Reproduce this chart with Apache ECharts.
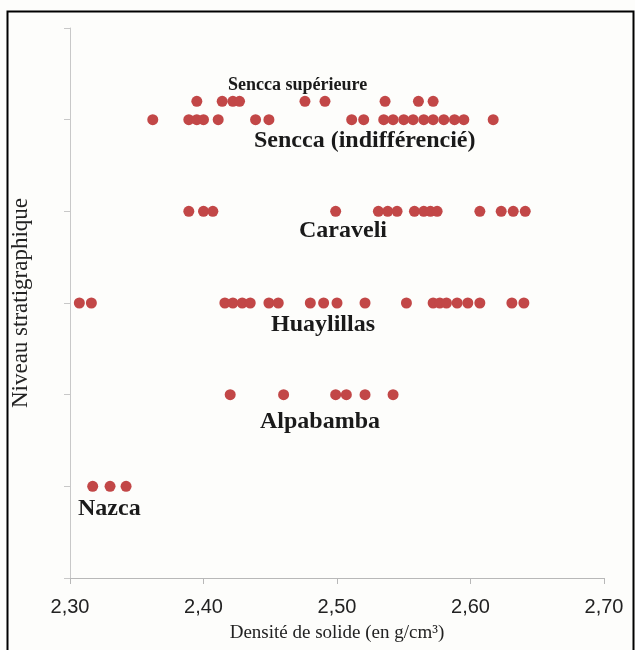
<!DOCTYPE html>
<html>
<head>
<meta charset="utf-8">
<script src="https://cdn.jsdelivr.net/npm/echarts@6/dist/echarts.min.js"></script>
<style>
html,body{margin:0;padding:0;background:#fff;}
#chart{width:635px;height:650px;}
</style>
</head>
<body>
<div id="chart"></div>
<script>
// niveaux stratigraphiques (position sur l'axe vertical)
var levels = { nazca: 1, alpabamba: 2, huaylillas: 3, caraveli: 4, senccaInd: 5, senccaSup: 5.2 };

var nazca = [2.317, 2.330, 2.342];
var alpabamba = [2.420, 2.460, 2.499, 2.507, 2.521, 2.542];
var huaylillas = [2.307, 2.316, 2.416, 2.422, 2.429, 2.435, 2.449, 2.456, 2.480, 2.490, 2.500,
    2.521, 2.552, 2.572, 2.577, 2.582, 2.590, 2.598, 2.607, 2.631, 2.640];
var caraveli = [2.389, 2.400, 2.407, 2.499, 2.531, 2.538, 2.545, 2.558, 2.565, 2.570, 2.575,
    2.607, 2.623, 2.632, 2.641];
var senccaInd = [2.362, 2.389, 2.395, 2.400, 2.411, 2.439, 2.449, 2.511, 2.520, 2.535, 2.542,
    2.550, 2.557, 2.565, 2.572, 2.580, 2.588, 2.595, 2.617];
var senccaSup = [2.395, 2.414, 2.422, 2.427, 2.476, 2.491, 2.536, 2.561, 2.572];

var xTicks = [2.30, 2.40, 2.50, 2.60, 2.70];

function pts(arr, y){
    return arr.map(function(v){ return [v, y]; });
}

var allPoints = []
    .concat(pts(nazca, levels.nazca))
    .concat(pts(alpabamba, levels.alpabamba))
    .concat(pts(huaylillas, levels.huaylillas))
    .concat(pts(caraveli, levels.caraveli))
    .concat(pts(senccaInd, levels.senccaInd))
    .concat(pts(senccaSup, levels.senccaSup));

var serif = '"Liberation Serif", "DejaVu Serif", serif';
var lbl = function(text, x, y, size){
    return {
        type: 'text', left: x, top: y,
        style: { text: text, font: 'bold ' + size + 'px ' + serif, fill: '#1a1a1a' }
    };
};

var chart = echarts.init(document.getElementById('chart'));

option = {
    backgroundColor: '#fdfdfb',
    animation: false,
    grid: { left: 70, right: 31, top: 28, bottom: 72 },
    xAxis: {
        type: 'value',
        min: 2.3,
        max: 2.7,
        interval: 0.1,
        name: 'Densité de solide (en g/cm³)',
        nameLocation: 'middle',
        nameGap: 46,
        nameTextStyle: { fontFamily: serif, fontSize: 19, color: '#222' },
        axisLine: { lineStyle: { color: '#b8b8b8' } },
        axisTick: { show: true, length: 6, lineStyle: { color: '#b8b8b8' } },
        splitLine: { show: false },
        axisLabel: {
            fontFamily: '"Liberation Sans", Arial, sans-serif',
            fontSize: 20,
            color: '#222',
            margin: 19,
            formatter: function(v){ return v.toFixed(2).replace('.', ','); }
        }
    },
    yAxis: {
        type: 'value',
        min: 0,
        max: 6,
        interval: 1,
        name: 'Niveau stratigraphique',
        nameLocation: 'middle',
        nameRotate: 90,
        nameGap: 38,
        nameTextStyle: { fontFamily: serif, fontSize: 23, color: '#222' },
        axisLine: { show: true, lineStyle: { color: '#c8c8c8' } },
        axisTick: { show: true, inside: false, length: 6, lineStyle: { color: '#c8c8c8' } },
        axisLabel: { show: false },
        splitLine: { show: false }
    },
    series: [{
        type: 'scatter',
        symbolSize: 11,
        itemStyle: { color: '#c24747', opacity: 1 },
        data: allPoints
    }],
    graphic: [
        {
            type: 'rect', left: 5, top: 9, z: -1,
            shape: { width: 626, height: 660 },
            style: { fill: null, stroke: '#000', lineWidth: 2 }
        },
        lbl('Sencca supérieure', 228, 76, 18),
        lbl('Sencca (indifférencié)', 254, 129, 24),
        lbl('Caraveli', 299, 219, 24),
        lbl('Huaylillas', 271, 313, 24),
        lbl('Alpabamba', 260, 410, 24),
        lbl('Nazca', 78, 497, 24)
    ]
};

chart.setOption(option);
</script>
</body>
</html>
